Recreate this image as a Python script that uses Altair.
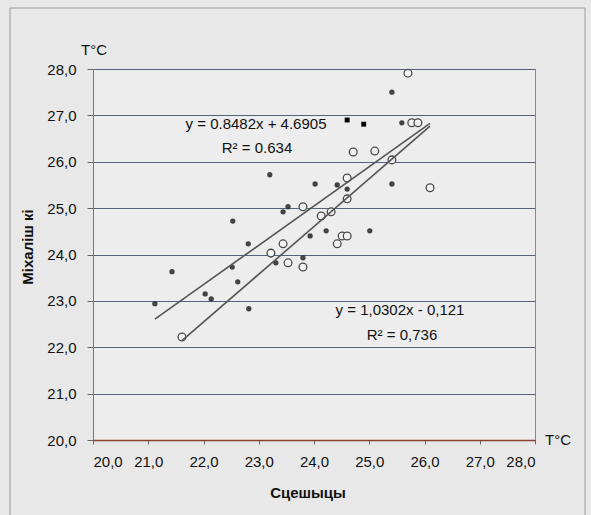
import altair as alt
import pandas as pd

# Filled-dot series (x: Сцешыцы, y: Міхалішкі), °C
filled_x = [23.20, 22.53, 22.81, 22.52, 21.43, 22.62, 22.03, 22.14, 21.12, 22.82,
            24.02, 24.42, 24.60, 23.53, 23.44, 24.22, 25.01, 23.93, 23.31, 23.80,
            25.41, 25.59, 25.41]
filled_y = [25.72, 24.72, 24.23, 23.73, 23.63, 23.41, 23.15, 23.04, 22.94, 22.83,
            25.52, 25.50, 25.41, 25.03, 24.92, 24.51, 24.51, 24.40, 23.82, 23.93,
            27.50, 26.84, 25.52]

# Dark square markers
square_x = [24.60, 24.90]
square_y = [26.90, 26.81]

# Open-circle series
open_x = [23.22, 21.61, 24.60, 24.60, 23.80, 24.31, 24.13, 24.51, 24.60, 24.42,
          23.44, 23.53, 23.80, 25.70, 25.77, 25.88, 25.10, 25.41, 26.10, 24.71]
open_y = [24.03, 22.22, 25.65, 25.20, 25.03, 24.92, 24.83, 24.40, 24.40, 24.23,
          24.23, 23.82, 23.73, 27.91, 26.84, 26.84, 26.23, 26.04, 25.44, 26.21]

# Trend lines (from the printed equations)
trend_names = ["filled", "open"]
trend_slope = [0.8482, 1.0302]
trend_intercept = [4.6905, -0.121]
trend_x_start = [21.12, 21.61]
trend_x_end = [26.10, 26.10]

eq_texts = ["y = 0.8482x + 4.6905", "R\u00b2 = 0.634", "y = 1,0302x - 0,121", "R\u00b2 = 0,736"]

df_filled = pd.DataFrame({"x": filled_x, "y": filled_y})
df_square = pd.DataFrame({"x": square_x, "y": square_y})
df_open = pd.DataFrame({"x": open_x, "y": open_y})
rows = []
for n, s, b, x0, x1 in zip(trend_names, trend_slope, trend_intercept, trend_x_start, trend_x_end):
    rows.append({"series": n, "x": x0, "y": s * x0 + b})
    rows.append({"series": n, "x": x1, "y": s * x1 + b})
df_trend = pd.DataFrame(rows)

FONT = "Liberation Sans"
fmt = "replace(format(datum.value, '.1f'), '.', ',')"

xscale = alt.Scale(domain=[20, 28], nice=False, zero=False)
yscale = alt.Scale(domain=[20, 28], nice=False, zero=False)

xaxis = alt.Axis(values=[20, 21, 22, 23, 24, 25, 26, 27, 28], labelExpr=fmt, title=None,
                 grid=False, domainColor="#8a3f2f", domainWidth=1.6, tickColor="#666",
                 tickSize=4, labelPadding=10, labelFont=FONT, labelFontSize=15,
                 labelColor="#111")
yaxis = alt.Axis(values=[20, 21, 22, 23, 24, 25, 26, 27, 28], labelExpr=fmt, title=None,
                 grid=True, gridColor="#56627a", gridWidth=1.1, domainColor="#777",
                 tickColor="#666", tickSize=6, labelPadding=11, labelFont=FONT,
                 labelFontSize=15, labelColor="#111")

base_x = alt.X("x:Q", scale=xscale, axis=xaxis)
base_y = alt.Y("y:Q", scale=yscale, axis=yaxis)

opens = alt.Chart(df_open).mark_point(shape="circle", fill="#f3f3f3", stroke="#4a4a4a",
                                      strokeWidth=1.3, size=60, opacity=1).encode(x=base_x, y=base_y)
dots = alt.Chart(df_filled).mark_circle(size=28, color="#3a3a3a", opacity=0.95).encode(
    x=alt.X("x:Q", scale=xscale), y=alt.Y("y:Q", scale=yscale))
squares = alt.Chart(df_square).mark_square(size=24, color="#000000", opacity=1).encode(
    x=alt.X("x:Q", scale=xscale), y=alt.Y("y:Q", scale=yscale))
trend = alt.Chart(df_trend).mark_line(color="#555555", strokeWidth=1.6).encode(
    x=alt.X("x:Q", scale=xscale), y=alt.Y("y:Q", scale=yscale), detail="series:N")

one = alt.Data(values=[{"a": 1}])

def txt(t, x, y, size=15, bold=False, align="center", angle=0):
    kw = dict(text=t, font=FONT, fontSize=size, color="#111", align=align, baseline="middle")
    if bold:
        kw["fontWeight"] = "bold"
    if angle:
        kw["angle"] = angle
    return alt.Chart(one).mark_text(**kw).encode(x=alt.value(x), y=alt.value(y))

frame = alt.Chart(one).mark_rect(filled=False, stroke="#9a9a9a", strokeWidth=1).encode(
    x=alt.value(-83), x2=alt.value(492), y=alt.value(-61), y2=alt.value(452))

annots = [
    txt(eq_texts[0], 163, 55),
    txt(eq_texts[1], 164, 79),
    txt(eq_texts[2], 307, 241),
    txt(eq_texts[3], 309, 266),
    txt("T\u00b0C", 1, -19),
    txt("T\u00b0C", 452, 371, align="left"),
    txt("Міхаліш кі", -65, 178, bold=True, angle=270),
    txt("Сцешыцы", 215, 424, bold=True),
]

chart = alt.layer(frame, opens, dots, squares, trend, *annots).properties(
    width=442, height=371,
    autosize=alt.AutoSizeParams(type="none"),
    padding={"left": 93, "top": 69, "right": 56, "bottom": 75},
    background="#e8e8e8",
).configure_view(fill="#ededed", stroke="#8a8a8a", strokeWidth=1)

chart.save("out.html", embed_options={"renderer": "svg", "actions": False})
